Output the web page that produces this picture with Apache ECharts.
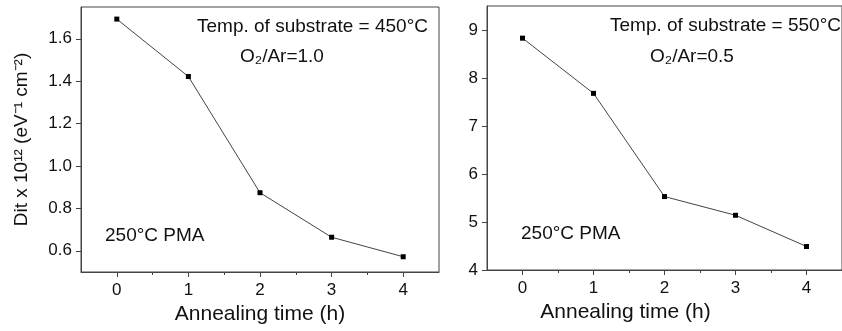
<!DOCTYPE html>
<html>
<head>
<meta charset="utf-8">
<script src="https://cdn.jsdelivr.net/npm/echarts@6/dist/echarts.min.js"></script>
<style>
  html, body { margin: 0; padding: 0; background: #fff; }
  #main { width: 842px; height: 331px; }
</style>
</head>
<body>
<div id="main"></div>
<script>
// annealing time (h)
var hours = [0, 1, 2, 3, 4];
// Dit x 10^12, substrate 450°C, O2/Ar = 1.0
var dit450 = [1.693, 1.422, 0.874, 0.664, 0.572];
// Dit x 10^12, substrate 550°C, O2/Ar = 0.5
var dit550 = [8.83, 7.68, 5.53, 5.14, 4.49];

var xTicks = [0, 1, 2, 3, 4];
var xMinorTicks = [0.5, 1.5, 2.5, 3.5];
var yTicksLeft = [0.6, 0.8, 1.0, 1.2, 1.4, 1.6];
var yTicksRight = [4, 5, 6, 7, 8, 9];

var font = '"Liberation Sans", Arial, Helvetica, sans-serif';
var axisColor = '#444';

function pairs(xs, ys) {
    return xs.map(function (x, i) { return [x, ys[i]]; });
}

function xAxisMain(gridIndex, namePad) {
    return {
        type: 'value', gridIndex: gridIndex, min: -0.5, max: 4.5, position: 'bottom',
        name: 'Annealing time (h)', nameLocation: 'middle', nameGap: 29,
        nameTextStyle: { fontFamily: font, fontSize: 21, color: '#111', padding: namePad },
        axisLine: { show: true, onZero: false, lineStyle: { color: axisColor, width: 1 } },
        axisTick: { show: true, inside: false, length: 5, customValues: xTicks, lineStyle: { color: axisColor } },
        axisLabel: { customValues: xTicks, margin: 10, fontFamily: font, fontSize: 17, color: '#111',
            formatter: function (v) { return String(v); } },
        splitLine: { show: false }
    };
}

function xAxisMinor(gridIndex) {
    return {
        type: 'value', gridIndex: gridIndex, min: -0.5, max: 4.5, position: 'bottom',
        axisLine: { show: false, onZero: false },
        axisTick: { show: true, inside: false, length: 3, customValues: xMinorTicks, lineStyle: { color: axisColor } },
        axisLabel: { show: false },
        splitLine: { show: false }
    };
}

function yAxis(gridIndex, min, max, ticks, name, fmt) {
    return {
        type: 'value', gridIndex: gridIndex, min: min, max: max, position: 'left',
        name: name, nameLocation: 'middle', nameRotate: 90, nameGap: 50,
        nameTextStyle: { fontFamily: font, fontSize: 19, color: '#111' },
        axisLine: { show: true, onZero: false, lineStyle: { color: axisColor, width: 1 } },
        axisTick: { show: true, inside: false, length: 5, customValues: ticks, lineStyle: { color: axisColor } },
        axisLabel: { customValues: ticks, margin: 9, fontFamily: font, fontSize: 17, color: '#111', formatter: fmt },
        splitLine: { show: false }
    };
}

function note(x, y, text, size) {
    return {
        type: 'text', left: x, top: y,
        style: { text: text, font: size + 'px ' + font, fill: '#111' }
    };
}

var chart = echarts.init(document.getElementById('main'), null, { renderer: 'canvas' });

chart.setOption({
    animation: false,
    backgroundColor: '#fff',
    grid: [
        { left: 81, top: 7, width: 358, height: 265, show: true, borderColor: axisColor, borderWidth: 1, backgroundColor: 'transparent' },
        { left: 487, top: 6, width: 358, height: 264, show: true, borderColor: axisColor, borderWidth: 1, backgroundColor: 'transparent' }
    ],
    xAxis: [
        xAxisMain(0, [0, 0, 0, 0]),
        xAxisMain(1, [0, 78, 0, 0]),
        xAxisMinor(0),
        xAxisMinor(1)
    ],
    yAxis: [
        yAxis(0, 0.5, 1.75, yTicksLeft, 'Dit x 10\u00b9\u00b2 (eV\u207b\u00b9 cm\u207b\u00b2)', function (v) { return v.toFixed(1); }),
        yAxis(1, 4, 9.5, yTicksRight, '', function (v) { return String(v); })
    ],
    series: [
        {
            type: 'line', xAxisIndex: 0, yAxisIndex: 0, data: pairs(hours, dit450),
            symbol: 'rect', symbolSize: 5, itemStyle: { color: '#000' },
            lineStyle: { color: '#444', width: 1 }
        },
        {
            type: 'line', xAxisIndex: 1, yAxisIndex: 1, data: pairs(hours, dit550),
            symbol: 'rect', symbolSize: 5, itemStyle: { color: '#000' },
            lineStyle: { color: '#444', width: 1 }
        }
    ],
    graphic: [
        note(197, 17, 'Temp. of substrate = 450\u00b0C', 19),
        note(240, 47, 'O\u2082/Ar=1.0', 19),
        note(105, 226, '250\u00b0C PMA', 19),
        note(610, 16, 'Temp. of substrate = 550\u00b0C', 19),
        note(650, 47, 'O\u2082/Ar=0.5', 19),
        note(521, 224, '250\u00b0C PMA', 19)
    ]
});
</script>
</body>
</html>
